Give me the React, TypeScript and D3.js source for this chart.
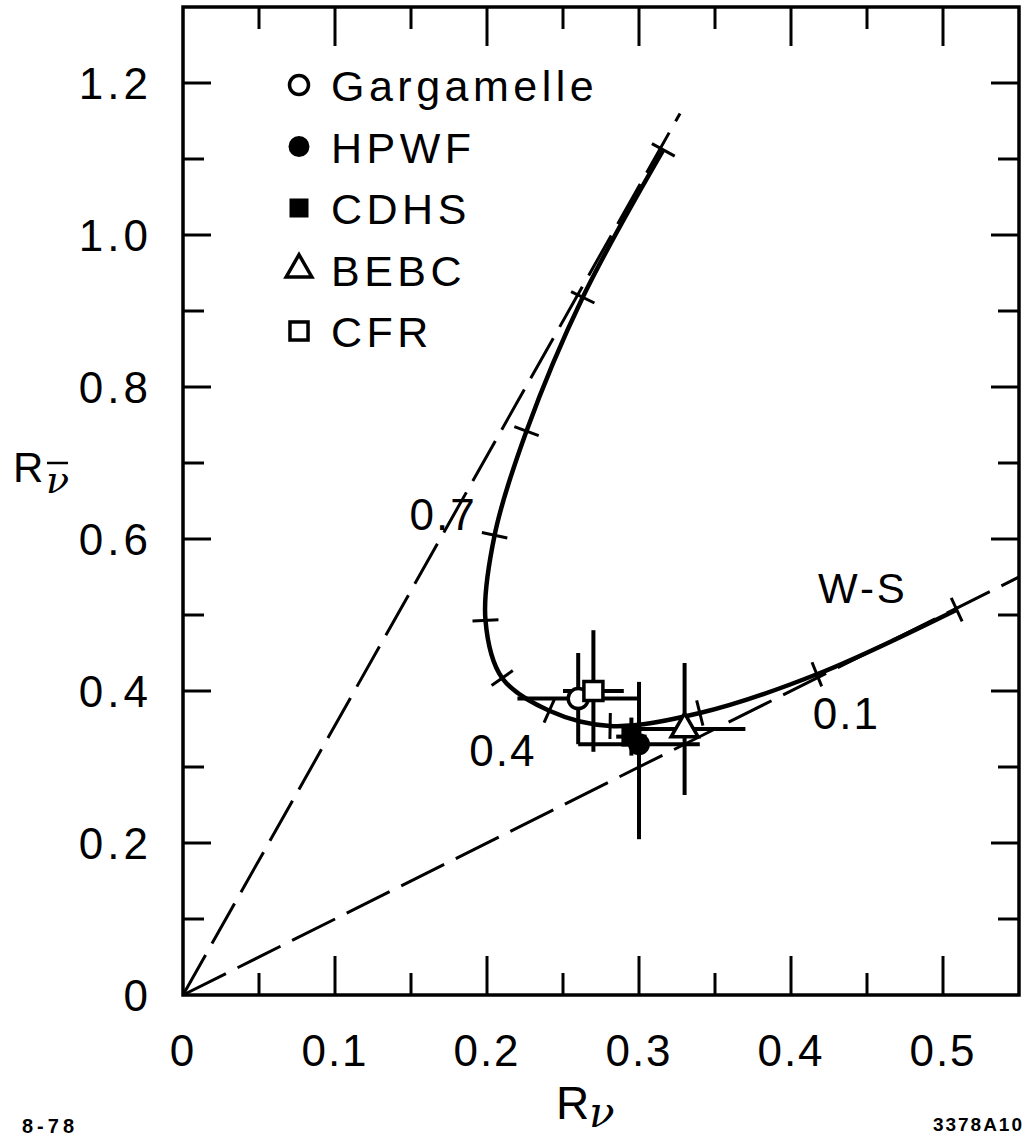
import React from 'react';
import * as d3 from 'd3';

// ---------- data ----------
const xTickValues = [0.05, 0.1, 0.15, 0.2, 0.25, 0.3, 0.35, 0.4, 0.45, 0.5];
const xMajorValues = [0, 0.1, 0.2, 0.3, 0.4, 0.5];
const xTickLabels = ['0', '0.1', '0.2', '0.3', '0.4', '0.5'];
const yTickValues = [0.1, 0.2, 0.3, 0.4, 0.5, 0.6, 0.7, 0.8, 0.9, 1.0, 1.1, 1.2];
const yMajorValues = [0, 0.2, 0.4, 0.6, 0.8, 1.0, 1.2];
const yTickLabels = ['0', '0.2', '0.4', '0.6', '0.8', '1.0', '1.2'];

// W-S curve, read at sin^2(theta_W) = 0, 0.1, ..., 1.0
const wsSin2 = [0, 0.1, 0.2, 0.3, 0.4, 0.5, 0.6, 0.7, 0.8, 0.9, 1.0];
const wsRnu = [0.509, 0.417, 0.340, 0.281, 0.241, 0.210, 0.199, 0.205, 0.226, 0.263, 0.316];
const wsRnubar = [0.507, 0.422, 0.371, 0.354, 0.374, 0.417, 0.493, 0.605, 0.742, 0.918, 1.112];
const wsLabelled = ['0.1', '0.4', '0.7'];

// dashed bounds through origin
const steepLine = [[0, 0], [0.327, 1.16]];
const diagLine = [[0, 0], [0.55, 0.55]];

// experiments
const experiments = ['Gargamelle', 'HPWF', 'CDHS', 'BEBC', 'CFR'];
const markerTypes = ['openCircle', 'filledCircle', 'filledSquare', 'openTriangle', 'openSquare'];
const expRnu = [0.26, 0.30, 0.295, 0.33, 0.27];
const expRnuErr = [0.04, 0.04, 0.01, 0.04, 0.02];
const expRnubar = [0.39, 0.33, 0.34, 0.35, 0.40];
const expRnubarLo = [0.33, 0.205, 0.315, 0.263, 0.32];
const expRnubarHi = [0.45, 0.412, 0.365, 0.437, 0.48];
const drawOrder = [2, 1, 3, 0, 4];

// ---------- layout ----------
const W = 1026, H = 1136;
const FONT = "'Liberation Sans', Arial, sans-serif";

function Marker({ type, cx, cy, s = 1 }: { type: string; cx: number; cy: number; s?: number }) {
  const sw = 3.5;
  if (type === 'openCircle') return <circle cx={cx} cy={cy} r={10 * s} fill="white" stroke="black" strokeWidth={sw} />;
  if (type === 'filledCircle') return <circle cx={cx} cy={cy} r={11 * s} fill="black" />;
  if (type === 'filledSquare') { const a = 20 * s; return <rect x={cx - a / 2} y={cy - a / 2} width={a} height={a} fill="black" />; }
  if (type === 'openSquare') { const a = 19 * s; return <rect x={cx - a / 2} y={cy - a / 2} width={a} height={a} fill="white" stroke="black" strokeWidth={sw} />; }
  const side = 27 * s, h = side * 0.866;
  const pts = [[cx, cy - (2 * h) / 3], [cx - side / 2, cy + h / 3], [cx + side / 2, cy + h / 3]];
  return <polygon points={pts.map(p => p.join(',')).join(' ')} fill="white" stroke="black" strokeWidth={sw} strokeLinejoin="miter" />;
}

export default function App() {
  const x = d3.scaleLinear().domain([0, 0.55]).range([183, 1019]);
  const y = d3.scaleLinear().domain([0, 1.3]).range([995, 7]);

  const pts: [number, number][] = wsSin2.map((_, i) => [x(wsRnu[i]), y(wsRnubar[i])]);
  const curvePath = d3.line().curve(d3.curveCatmullRom.alpha(0.5))(pts) || '';
  const half = 13;
  const curveTicks = pts.map((p, i) => {
    const a = pts[Math.max(0, i - 1)], b = pts[Math.min(pts.length - 1, i + 1)];
    const dx = b[0] - a[0], dy = b[1] - a[1];
    const len = Math.hypot(dx, dy) || 1;
    const nx = -dy / len, ny = dx / len;
    return { x1: p[0] - nx * half, y1: p[1] - ny * half, x2: p[0] + nx * half, y2: p[1] + ny * half };
  });
  const lineGen = d3.line().x(d => x(d[0])).y(d => y(d[1]));

  const labelOffset: Record<string, [number, number]> = { '0.1': [-4, 55], '0.4': [-80, 55], '0.7': [-85, -5] };

  const legendX = 299, legendTextX = 331;
  const legendY0 = 85, legendDy = 61.5;

  const x0 = x(0), x1 = x(0.55), y0 = y(0), y1 = y(1.3);

  return (
    <svg width={W} height={H} style={{ position: 'absolute', left: 0, top: 0, background: 'white' }}
      fontFamily={FONT}>
      <rect x={0} y={0} width={W} height={H} fill="white" />
      {/* frame */}
      <rect x={x0} y={y1} width={x1 - x0} height={y0 - y1} fill="none" stroke="black" strokeWidth={3.5} />
      {/* x ticks */}
      {xTickValues.map((v, i) => {
        const major = Math.abs(v * 10 - Math.round(v * 10)) < 1e-6;
        const L = major ? 39 : 22;
        return (
          <g key={'xt' + i} stroke="black" strokeWidth={3}>
            <line x1={x(v)} x2={x(v)} y1={y0} y2={y0 - L} />
            <line x1={x(v)} x2={x(v)} y1={y1} y2={y1 + L} />
          </g>
        );
      })}
      {/* y ticks */}
      {yTickValues.map((v, i) => {
        const major = Math.round(v * 10) % 2 === 0;
        const L = major ? 28 : 21;
        return (
          <g key={'yt' + i} stroke="black" strokeWidth={3}>
            <line x1={x0} x2={x0 + L} y1={y(v)} y2={y(v)} />
            <line x1={x1} x2={x1 - L} y1={y(v)} y2={y(v)} />
          </g>
        );
      })}
      {/* tick labels */}
      {xMajorValues.map((v, i) => (
        <text key={'xl' + i} x={x(v)} y={1066} fontSize={44} textAnchor="middle" letterSpacing={2}>{xTickLabels[i]}</text>
      ))}
      {yMajorValues.map((v, i) => (
        <text key={'yl' + i} x={152} y={y(v) + 16} fontSize={44} textAnchor="end" letterSpacing={4}>{yTickLabels[i]}</text>
      ))}
      {/* axis titles */}
      <text x={556} y={1119} fontSize={46}>R</text>
      <text x={589} y={1127} fontSize={42} fontStyle="italic" fontFamily="'DejaVu Serif', serif">ν</text>
      <text x={13} y={482} fontSize={42}>R</text>
      <text x={46} y={493} fontSize={38} fontStyle="italic" fontFamily="'DejaVu Serif', serif">ν</text>
      <line x1={47} x2={68} y1={463} y2={463} stroke="black" strokeWidth={2.5} />

      {/* dashed lines */}
      <path d={lineGen(steepLine as any) || ''} fill="none" stroke="black" strokeWidth={3} strokeDasharray="46 13" />
      <path d={lineGen(diagLine as any) || ''} fill="none" stroke="black" strokeWidth={3} strokeDasharray="48 13" />

      {/* W-S curve */}
      <path d={curvePath} fill="none" stroke="black" strokeWidth={4.5} />
      {curveTicks.map((t, i) => (
        <line key={'ct' + i} {...t} stroke="black" strokeWidth={3} />
      ))}
      {wsSin2.map((s, i) => {
        const lab = wsLabelled.find(l => Math.abs(parseFloat(l) - s) < 1e-6);
        if (!lab) return null;
        const off = labelOffset[lab];
        return <text key={'wl' + i} x={pts[i][0] + off[0]} y={pts[i][1] + off[1]} fontSize={44} letterSpacing={2}>{lab}</text>;
      })}
      <text x={818} y={603} fontSize={42} letterSpacing={3}>W-S</text>

      {/* error bars */}
      {drawOrder.map(i => (
        <g key={'eb' + i} stroke="black" strokeWidth={4}>
          <line x1={x(expRnu[i] - expRnuErr[i])} x2={x(expRnu[i] + expRnuErr[i])} y1={y(expRnubar[i])} y2={y(expRnubar[i])} />
          <line x1={x(expRnu[i])} x2={x(expRnu[i])} y1={y(expRnubarLo[i])} y2={y(expRnubarHi[i])} />
        </g>
      ))}
      {/* markers */}
      {drawOrder.map(i => (
        <Marker key={'mk' + i} type={markerTypes[i]} cx={x(expRnu[i])} cy={y(expRnubar[i])} />
      ))}

      {/* legend */}
      {experiments.map((name, i) => (
        <g key={'lg' + i}>
          <Marker type={markerTypes[i]} cx={legendX} cy={legendY0 + i * legendDy} s={0.95} />
          <text x={legendTextX} y={legendY0 + i * legendDy + 16} fontSize={43} letterSpacing={4.5}>{name}</text>
        </g>
      ))}

      {/* corner notes */}
      <text x={22} y={1133} fontSize={20} fontWeight="bold" letterSpacing={4}>8-78</text>
      <text x={1024} y={1131} fontSize={19} fontWeight="bold" letterSpacing={2} textAnchor="end">3378A10</text>
    </svg>
  );
}
